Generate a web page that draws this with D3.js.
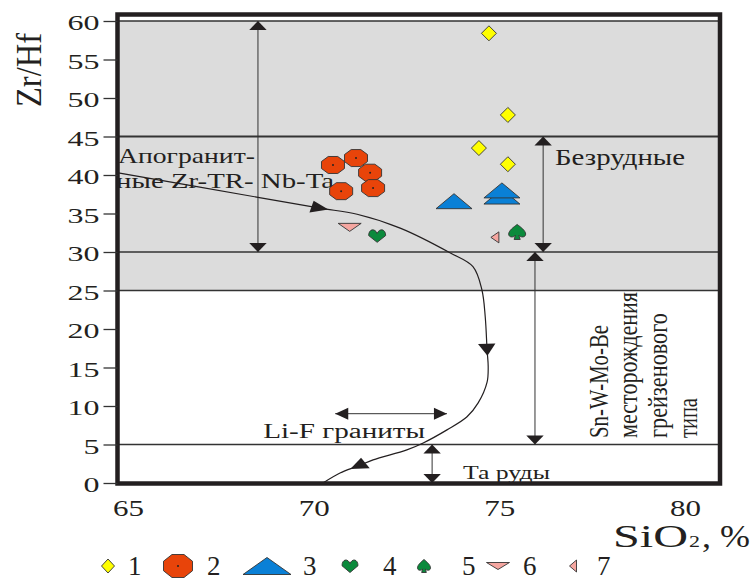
<!DOCTYPE html>
<html>
<head>
<meta charset="utf-8">
<script src="https://cdn.jsdelivr.net/npm/d3@7"></script>
<style>
  body { margin: 0; background: #fff; }
  svg { display: block; }
  text { font-family: "Liberation Serif", "Times New Roman", serif; fill: #231f20; }
</style>
</head>
<body>
<svg id="chart" width="751" height="583"></svg>
<script>
// ---- data (SiO2 %, Zr/Hf) ----
const xTicks = [65, 70, 75, 80];
const yTicks = [0, 5, 10, 15, 20, 25, 30, 35, 40, 45, 50, 55, 60];

const series1 = [[74.72, 58.4], [75.23, 47.8], [74.45, 43.5], [75.23, 41.4]];
const series2 = [[70.52, 41.3], [71.14, 42.2], [71.52, 40.3], [70.74, 37.9], [71.60, 38.3]];
const series3 = [[73.78, 36.6], [75.07, 37.2], [75.07, 38.0]];
const series4 = [[71.71, 32.1]];
const series5 = [[75.48, 32.6]];
const series6 = [[70.97, 33.2]];
const series7 = [[74.88, 31.9]];
const legendLabels = ["1", "2", "3", "4", "5", "6", "7"];

// field boundaries (Zr/Hf levels) and shaded band
const boundaryLevels = [60, 45, 30, 25, 5];
const grayBand = [25, 60];

// evolution trend curve and the vertices where it carries an arrow
const trendCurve = [
  [64.70, 40.3], [68.50, 37.1], [70.17, 35.7], [71.17, 34.9], [72.33, 33.1],
  [73.67, 29.9], [74.29, 28.1], [74.53, 25.1], [74.62, 21.6], [74.67, 17.3],
  [74.70, 15.1], [74.67, 13.1], [74.43, 10.4], [74.13, 8.6], [73.59, 6.9],
  [72.95, 5.2], [72.51, 4.3], [71.60, 3.0], [71.19, 2.2], [70.71, 1.3], [70.25, 0]
];
const trendArrowAt = [2, 9, 18];

// double headed range arrows [[x1,y1],[x2,y2]]
const rangeArrows = [
  [[68.50, 60], [68.50, 30]],
  [[76.18, 45], [76.18, 30]],
  [[75.96, 30], [75.96, 5]],
  [[73.19, 5], [73.19, 0]],
  [[70.58, 9], [73.59, 9]]
];

// annotation text and anchors (data units)
const notes = [
  ["Апогранит-", 64.73, 41.56],
  ["ные Zr-TR- Nb-Ta", 64.68, 38.31],
  ["Безрудные", 76.50, 41.36],
  ["Li-F граниты", 68.64, 5.84],
  ["Та руды", 74.02, 0.52]
];
const oreNote = ["Sn-W-Mo-Be", "месторождения", "грейзенового", "типа"];
const oreNoteX = [77.93, 78.71, 79.52, 80.32];
const oreNoteY = 5.84;

// ---- layout ----
const svg = d3.select("#chart");
const frame = { left: 117.5, right: 720, top: 14.5, bottom: 483.5 };
const STRETCH = 1.45; // the source figure is stretched horizontally
const ink = "#231f20";

const x = d3.scaleLinear().domain([65, 80]).range([128, 685]);
const y = d3.scaleLinear().domain([0, 60]).range([483, 21]);

// marker shapes, centred on 0,0
function shapePath(type, w, h) {
  switch (type) {
    case "diamond":
      return `M0,${-h/2}L${w/2},0L0,${h/2}L${-w/2},0Z`;
    case "octagon": {
      const k = 1 / Math.cos(Math.PI / 8);
      const pts = d3.range(8).map(i => {
        const a = Math.PI / 8 + i * Math.PI / 4;
        return [Math.cos(a) * w / 2 * k, Math.sin(a) * h / 2 * k];
      });
      return "M" + pts.join("L") + "Z";
    }
    case "triUp":
      return `M0,${-h/2}L${w/2},${h/2}L${-w/2},${h/2}Z`;
    case "triDown":
      return `M${-w/2},${-h/2}L${w/2},${-h/2}L0,${h/2}Z`;
    case "triLeft":
      return `M${-w/2},0L${w/2},${-h/2}L${w/2},${h/2}Z`;
    case "heart":
      return `M0,${h/2}L${-w/2},${-h*0.02}C${-w/2},${-h*0.55} ${-w*0.12},${-h*0.6} 0,${-h*0.18}` +
             `C${w*0.12},${-h*0.6} ${w/2},${-h*0.55} ${w/2},${-h*0.02}Z`;
    case "club":
      return `M0,${-h/2}C${w*0.22},${-h*0.32} ${w/2},${-h*0.08} ${w/2},${h*0.14}` +
             `C${w/2},${h*0.38} ${w*0.2},${h*0.38} ${w*0.1},${h*0.22}L${w*0.18},${h/2}` +
             `L${-w*0.18},${h/2}L${-w*0.1},${h*0.22}C${-w*0.2},${h*0.38} ${-w/2},${h*0.38} ${-w/2},${h*0.14}` +
             `C${-w/2},${-h*0.08} ${-w*0.22},${-h*0.32} 0,${-h/2}Z`;
  }
}

const seriesList = [
  { pts: series1, shape: "diamond", fill: "#ffff00", w: 15, h: 15, lw: 13, lh: 14 },
  { pts: series2, shape: "octagon", fill: "#e8440a", w: 23, h: 17, lw: 29, lh: 23, dot: true },
  { pts: series3, shape: "triUp",   fill: "#0a80d6", w: 36, h: 15, lw: 48, lh: 17 },
  { pts: series4, shape: "heart",   fill: "#0b8a3c", w: 17, h: 13, lw: 16, lh: 13 },
  { pts: series5, shape: "club",    fill: "#0b8a3c", w: 17, h: 15, lw: 13, lh: 13 },
  { pts: series6, shape: "triDown", fill: "#f5a6a0", w: 23, h: 8,  lw: 23, lh: 7 },
  { pts: series7, shape: "triLeft", fill: "#f5a6a0", w: 8,  h: 11, lw: 7,  lh: 12 }
];
// legend: marker centre x, label start x
const legendLayout = [[108, 128], [178, 207], [267, 303], [350, 383], [424, 462], [498, 523], [573, 597]];
const legendY = 566;

function label(parent, str, px, py, size, len, rotate, anchor) {
  const t = parent.append("text")
    .attr("font-size", size)
    .attr("text-anchor", anchor || "start")
    .text(str);
  if (len) t.attr("textLength", len).attr("lengthAdjust", "spacingAndGlyphs");
  if (rotate) t.attr("transform", `translate(${px},${py}) rotate(-90)`);
  else t.attr("x", px).attr("y", py);
  return t;
}

// arrow head with its tip at px,py, pointing along screen vector dx,dy
function tipHead(g, px, py, dx, dy, L, W) {
  const ang = Math.atan2(dy, dx / STRETCH) * 180 / Math.PI;
  g.append("path")
    .attr("d", `M0,0L${-L},${-W/2}L${-L},${W/2}Z`)
    .attr("fill", ink)
    .attr("transform", `translate(${px},${py}) scale(${STRETCH},1) rotate(${ang})`);
}

// ---- background band and boundaries ----
svg.append("rect")
  .attr("x", frame.left).attr("width", frame.right - frame.left)
  .attr("y", y(grayBand[1])).attr("height", y(grayBand[0]) - y(grayBand[1]))
  .attr("fill", "#dcdcdc");

svg.append("g").selectAll("line").data(boundaryLevels).join("line")
  .attr("x1", frame.left).attr("x2", frame.right)
  .attr("y1", d => y(d)).attr("y2", d => y(d))
  .attr("stroke", "#333")
  .attr("stroke-width", d => d === 45 ? 1.8 : 1.3);

// ---- annotations ----
const noteStyle = [[22, 137], [21, 218], [23, 130], [20, 162], [18, 87]];
notes.forEach((n, i) => label(svg, n[0], x(n[1]), y(n[2]), noteStyle[i][0], noteStyle[i][1]));

const oreLen = [113, 146, 125, 40];
oreNote.forEach((s, i) => label(svg, s, x(oreNoteX[i]), y(oreNoteY), 28, oreLen[i], true));

// ---- range arrows ----
const arrows = svg.append("g");
rangeArrows.forEach(([a, b]) => {
  const p1 = [x(a[0]), y(a[1])], p2 = [x(b[0]), y(b[1])];
  arrows.append("line")
    .attr("x1", p1[0]).attr("y1", p1[1]).attr("x2", p2[0]).attr("y2", p2[1])
    .attr("stroke", "#333").attr("stroke-width", 1);
  tipHead(arrows, p2[0], p2[1], p2[0] - p1[0], p2[1] - p1[1], 9, 12);
  tipHead(arrows, p1[0], p1[1], p1[0] - p2[0], p1[1] - p2[1], 9, 12);
});

// ---- trend curve ----
const line = d3.line().x(d => x(d[0])).y(d => y(d[1])).curve(d3.curveCatmullRom.alpha(0.5));
svg.append("path").datum(trendCurve)
  .attr("d", line)
  .attr("fill", "none").attr("stroke", ink).attr("stroke-width", 1.2);

trendArrowAt.forEach(i => {
  const a = trendCurve[i - 1], b = trendCurve[i + 1], c = trendCurve[i];
  const dx = x(b[0]) - x(a[0]), dy = y(b[1]) - y(a[1]);
  const len = Math.hypot(dx / STRETCH, dy);
  const L = 12;
  // shift so the head is centred on the vertex
  const px = x(c[0]) + (dx / STRETCH) / len * L / 2 * STRETCH;
  const py = y(c[1]) + dy / len * L / 2;
  tipHead(svg, px, py, dx, dy, L, 12);
});

// ---- data points ----
seriesList.forEach(s => {
  const g = svg.append("g");
  g.selectAll("path").data(s.pts).join("path")
    .attr("d", shapePath(s.shape, s.w, s.h))
    .attr("transform", d => `translate(${x(d[0])},${y(d[1])})`)
    .attr("fill", s.fill).attr("stroke", "#333").attr("stroke-width", 0.9);
  if (s.dot) {
    g.selectAll("circle").data(s.pts).join("circle")
      .attr("cx", d => x(d[0])).attr("cy", d => y(d[1])).attr("r", 1).attr("fill", "#222");
  }
});

// ---- frame ----
svg.append("rect")
  .attr("x", frame.left).attr("y", frame.top)
  .attr("width", frame.right - frame.left).attr("height", frame.bottom - frame.top)
  .attr("fill", "none").attr("stroke", ink).attr("stroke-width", 4.5);

// ---- axes ----
const yAxis = svg.append("g")
  .attr("transform", `translate(${frame.left},0)`)
  .call(d3.axisLeft(y).tickValues(yTicks).tickSize(14).tickPadding(4));
yAxis.select(".domain").remove();
yAxis.attr("font-family", null);
yAxis.selectAll(".tick line").attr("stroke", "#333").attr("stroke-width", 1.3);
yAxis.selectAll(".tick text")
  .attr("font-size", 22).attr("fill", ink)
  .attr("dy", "0.4em")
  .attr("textLength", d => String(d).length * 16)
  .attr("lengthAdjust", "spacingAndGlyphs");

const xAxis = svg.append("g")
  .attr("transform", `translate(0,${frame.bottom})`)
  .call(d3.axisBottom(x).tickValues(xTicks).tickSize(0));
xAxis.select(".domain").remove();
xAxis.attr("font-family", null);
xAxis.selectAll(".tick text")
  .attr("font-size", 23).attr("fill", ink)
  .attr("y", 32.5).attr("dy", 0)
  .attr("textLength", 31).attr("lengthAdjust", "spacingAndGlyphs");

// axis titles
label(svg, "Zr/Hf", 41, 70, 36, 74, true, "middle");
label(svg, "SiO", 613, 547, 32, 75);
label(svg, "2", 689, 547, 16, 11);
label(svg, ", %", 702, 547, 32, 48);

// ---- legend ----
const legend = svg.append("g");
seriesList.forEach((s, i) => {
  const [mx, tx] = legendLayout[i];
  legend.append("path")
    .attr("d", shapePath(s.shape, s.lw, s.lh))
    .attr("transform", `translate(${mx},${legendY})`)
    .attr("fill", s.fill).attr("stroke", "#333").attr("stroke-width", 0.9);
  if (s.dot) legend.append("circle").attr("cx", mx).attr("cy", legendY).attr("r", 1).attr("fill", "#222");
  label(legend, legendLabels[i], tx, legendY + 9, 27);
});
</script>
</body>
</html>
